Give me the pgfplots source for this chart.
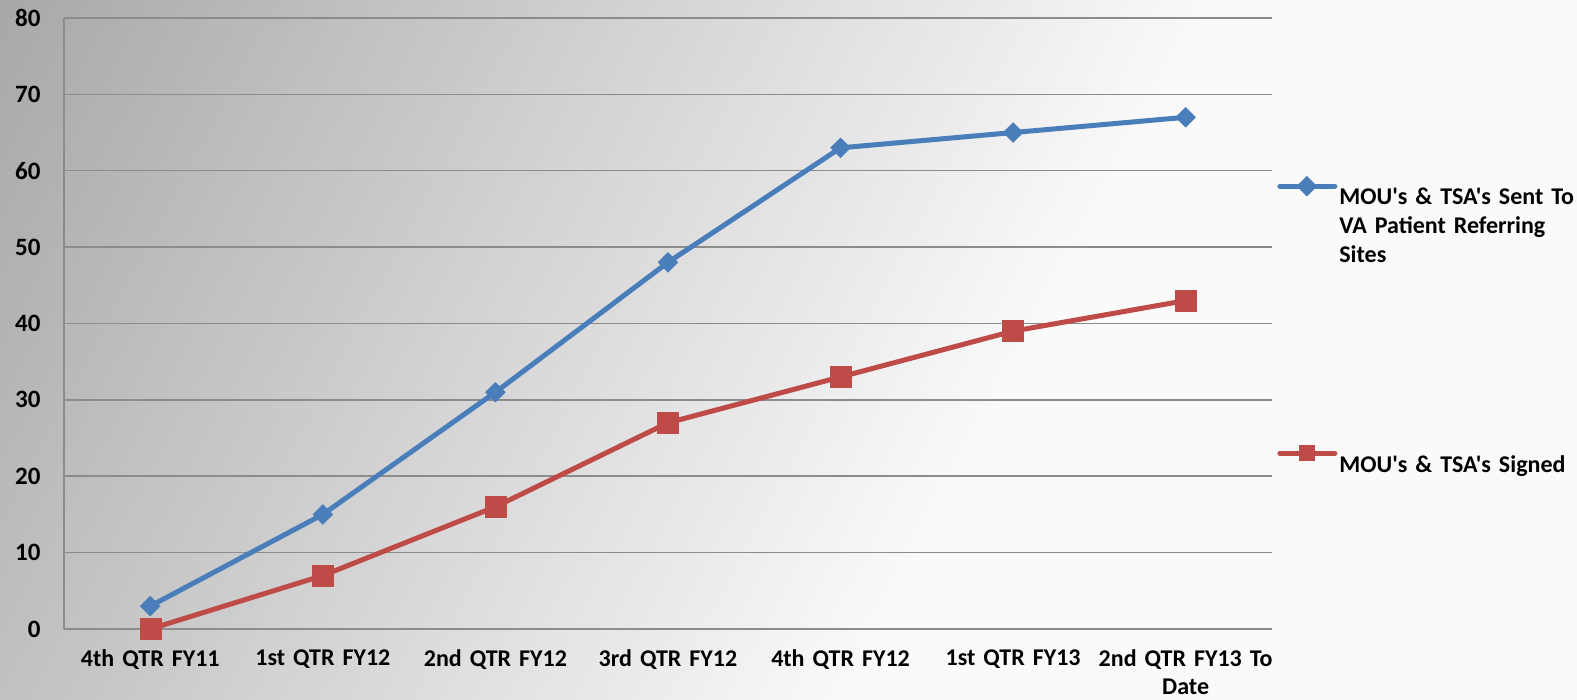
\documentclass[border=0pt]{standalone}
\usepackage{pgfplots}
\pgfplotsset{compat=1.18}
\usepackage{fontspec}
\setmainfont{Carlito}[Ligatures=TeXOff]
\definecolor{sblue}{HTML}{4A7EBB}
\definecolor{sred}{HTML}{BE4B48}
\definecolor{gridc}{HTML}{8C8C8C}
\definecolor{bgA}{HTML}{A8A8A8}
\definecolor{bgB}{HTML}{FAFAFA}
\pgfdeclarehorizontalshading{bgshade}{100bp}{color(0bp)=(bgA); color(28.5bp)=(bgA); color(55.5bp)=(bgB); color(100bp)=(bgB)}
\begin{document}
\begin{tikzpicture}[x=1pt,y=1pt]
\useasboundingbox (0,0) rectangle (1577,700);
\begin{scope}
\clip (0,0) rectangle (1577,700);
\shade[shading=bgshade, shading angle=-28] (-211.5,-650) rectangle (1788.5,1350);
\end{scope}
\pgfplotsset{
  common/.style={
    at={(64pt,71pt)}, anchor=south west, scale only axis,
    width=1208pt, height=611pt,
    xmin=-0.5, xmax=6.5, ymin=0, ymax=80,
  },
}
\begin{axis}[common,
  ytick={0,10,...,80}, xtick={0,...,6},
  xticklabels={4th QTR FY11, 1st QTR FY12, 2nd QTR FY12, 3rd QTR FY12, 4th QTR FY12, 1st QTR FY13, {2nd QTR FY13 To\\Date}},
  ymajorgrids, grid style={gridc, line width=1.5pt},
  axis x line*=bottom, axis y line*=left,
  axis line style={gridc, line width=1.5pt, -},
  major tick length=0pt,
  /pgf/number format/assume math mode=true,
  yticklabel style={font=\fontsize{25}{30}\selectfont\bfseries, anchor=east, xshift=-20pt},
  xticklabel style={font=\fontsize{24}{28}\selectfont\bfseries, text width=240pt, align=center, anchor=north, yshift=-17pt},
  legend style={draw=none, fill=none, inner sep=0pt, outer sep=0pt,
      font=\fontsize{24}{29}\selectfont\bfseries,
      cells={anchor=north west, text width=240pt, align=left},
      at={(1.0045,0.741)}, anchor=north west},
  legend image code/.code={\draw[#1, mark repeat=2, mark phase=2, line cap=round]
      plot coordinates {(0pt,0pt) (27pt,0pt) (55pt,0pt)};},
]
\addplot[sblue, line width=5pt, line join=round, mark=square*,
  mark options={rotate=45, solid, fill=sblue, draw=sblue, line width=0.5pt, mark size=7pt}]
  coordinates {(0,3) (1,15) (2,31) (3,48) (4,63) (5,65) (6,67)};
\addlegendentry{MOU's \& TSA's Sent To VA Patient Referring Sites}
\addplot[sred, line width=5pt, line join=round, mark=square*,
  mark options={solid, fill=sred, draw=sred, line width=0.5pt, mark size=10.5pt}]
  coordinates {(0,0) (1,7) (2,16) (3,27) (4,33) (5,39) (6,43)};
\end{axis}
\begin{axis}[common, hide axis,
  legend style={draw=none, fill=none, inner sep=0pt, outer sep=0pt,
      font=\fontsize{24}{29}\selectfont\bfseries,
      cells={anchor=north west, text width=240pt, align=left},
      at={(1.0045,0.300)}, anchor=north west},
  legend image code/.code={\draw[#1, mark repeat=2, mark phase=2, line cap=round]
      plot coordinates {(0pt,0pt) (27pt,0pt) (55pt,0pt)};},
]
\addlegendimage{sred, line width=5pt, mark=square*,
  mark options={solid, fill=sred, draw=sred, line width=0.5pt, mark size=7.5pt}}
\addlegendentry{MOU's \& TSA's Signed}
\end{axis}
\end{tikzpicture}
\end{document}
